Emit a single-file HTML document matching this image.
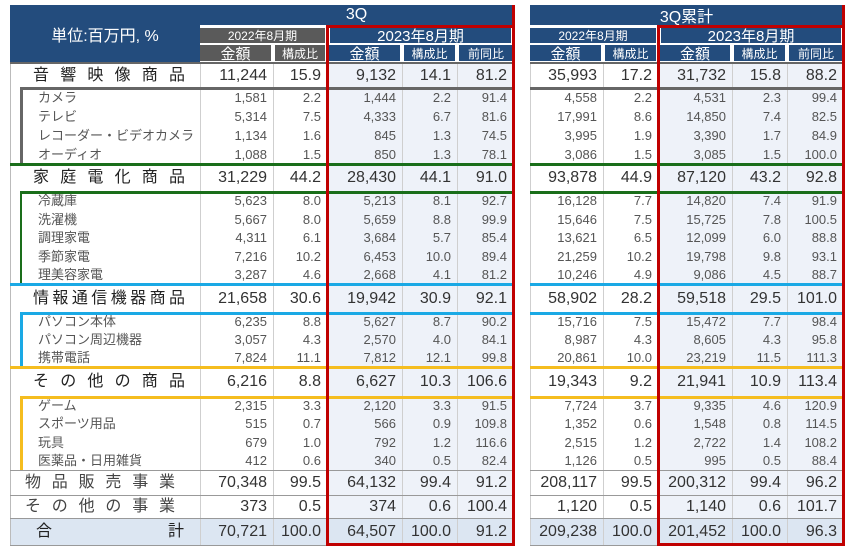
<!DOCTYPE html>
<html><head><meta charset="utf-8"><style>
body{margin:0;width:857px;height:550px;background:#fff;overflow:hidden;position:relative;font-family:"Liberation Sans","Noto Sans CJK JP",sans-serif;}
div{position:absolute;box-sizing:border-box;}
.hd{color:#fff;text-align:center;display:flex;align-items:center;justify-content:center;}
.n{text-align:right;color:#333;}
</style></head><body>
<script>
const R=document.body;
function d(x,y,w,h,st,txt,cls){const e=document.createElement('div');e.style.cssText=`left:${x}px;top:${y}px;width:${w}px;height:${h}px;`+(st||'');if(cls)e.className=cls;if(txt!==undefined)e.textContent=txt;R.appendChild(e);return e;}
const NAV='#234c7d',GR='#5a5a5a';
const colsL=[200,273,327,402,457,513],colsR=[530,603,658,732,787,843];
d(327,62,186,456,'background:#eef2f9');d(658,62,185,456,'background:#eef2f9');
d(10,518,503,27,'background:#dce6f2');d(530,518,313,27,'background:#dce6f2');
d(10,5,190,57,'background:'+NAV+';font-size:16px','単位:百万円, %','hd');
d(200,5,313,20,'background:'+NAV+';font-size:16px','3Q','hd');
d(530,5,313,20,'background:'+NAV+';font-size:16px','3Q累計','hd');
d(200,28,125,15,'background:'+GR+';font-size:12px','2022年8月期','hd');
d(330,28,181,15,'background:'+NAV+';font-size:15px','2023年8月期','hd');
d(530,28,126,15,'background:'+NAV+';font-size:12px','2022年8月期','hd');
d(661,28,180,15,'background:'+NAV+';font-size:15px','2023年8月期','hd');
const hn=['金額','構成比','金額','構成比','前同比'];
for(let i=0;i<5;i++){
 const c=i<2?GR:NAV;
 d(colsL[i]+(i==0?0:2),45,colsL[i+1]-colsL[i]-(i==0?2:4)+(i==4?2:0),16,'background:'+c+';font-size:'+(i%2==0&&i!=4?15:12)+'px',hn[i],'hd');
 d(colsR[i]+(i==0?0:2),45,colsR[i+1]-colsR[i]-(i==0?2:4)+(i==4?2:0),16,'background:'+NAV+';font-size:'+(i%2==0&&i!=4?15:12)+'px',hn[i],'hd');
}
for(const cs of [colsL,colsR])for(let i=0;i<5;i++)d(cs[i],62,1,483,'background:#cfcfcf');
d(10,62,1,483,'background:#bbb');
d(10,62,503,2,'background:#666');d(530,62,313,2,'background:#666');
const rows=[
['音 響 映 像 商 品','M',64,88,['11,244','15.9','9,132','14.1','81.2'],['35,993','17.2','31,732','15.8','88.2']],
['カメラ','S',88,107,['1,581','2.2','1,444','2.2','91.4'],['4,558','2.2','4,531','2.3','99.4']],
['テレビ','S',107,126,['5,314','7.5','4,333','6.7','81.6'],['17,991','8.6','14,850','7.4','82.5']],
['レコーダー・ビデオカメラ','S',126,145,['1,134','1.6','845','1.3','74.5'],['3,995','1.9','3,390','1.7','84.9']],
['オーディオ','S',145,164,['1,088','1.5','850','1.3','78.1'],['3,086','1.5','3,085','1.5','100.0']],
['家 庭 電 化 商 品','M',164,192,['31,229','44.2','28,430','44.1','91.0'],['93,878','44.9','87,120','43.2','92.8']],
['冷蔵庫','S',192,210,['5,623','8.0','5,213','8.1','92.7'],['16,128','7.7','14,820','7.4','91.9']],
['洗濯機','S',210,229,['5,667','8.0','5,659','8.8','99.9'],['15,646','7.5','15,725','7.8','100.5']],
['調理家電','S',229,247,['4,311','6.1','3,684','5.7','85.4'],['13,621','6.5','12,099','6.0','88.8']],
['季節家電','S',247,266,['7,216','10.2','6,453','10.0','89.4'],['21,259','10.2','19,798','9.8','93.1']],
['理美容家電','S',266,284,['3,287','4.6','2,668','4.1','81.2'],['10,246','4.9','9,086','4.5','88.7']],
['情報通信機器商品','M',284,313,['21,658','30.6','19,942','30.9','92.1'],['58,902','28.2','59,518','29.5','101.0']],
['パソコン本体','S',313,331,['6,235','8.8','5,627','8.7','90.2'],['15,716','7.5','15,472','7.7','98.4']],
['パソコン周辺機器','S',331,349,['3,057','4.3','2,570','4.0','84.1'],['8,987','4.3','8,605','4.3','95.8']],
['携帯電話','S',349,367,['7,824','11.1','7,812','12.1','99.8'],['20,861','10.0','23,219','11.5','111.3']],
['そ の 他 の 商 品','M',367,397,['6,216','8.8','6,627','10.3','106.6'],['19,343','9.2','21,941','10.9','113.4']],
['ゲーム','S',397,415,['2,315','3.3','2,120','3.3','91.5'],['7,724','3.7','9,335','4.6','120.9']],
['スポーツ用品','S',415,433,['515','0.7','566','0.9','109.8'],['1,352','0.6','1,548','0.8','114.5']],
['玩具','S',433,452,['679','1.0','792','1.2','116.6'],['2,515','1.2','2,722','1.4','108.2']],
['医薬品・日用雑貨','S',452,470,['412','0.6','340','0.5','82.4'],['1,126','0.5','995','0.5','88.4']],
['物 品 販 売 事 業','B',470,495,['70,348','99.5','64,132','99.4','91.2'],['208,117','99.5','200,312','99.4','96.2']],
['そ の 他 の 事 業','B',495,518,['373','0.5','374','0.6','100.4'],['1,120','0.5','1,140','0.6','101.7']],
['合計','T',518,545,['70,721','100.0','64,507','100.0','91.2'],['209,238','100.0','201,452','100.0','96.3']],
];
for(const r of rows){
 const [lab,t,y0,y1,L,Rv]=r,h=y1-y0;
 const big=t!='S';
 if(t=='S')d(38,y0,170,h,`font-size:13px;line-height:${h}px;color:#555;white-space:nowrap`,lab);
 else if(t=='T'){d(36,y0,20,h,`font-size:16px;line-height:${h}px;color:#222`,'合');d(168,y0,20,h,`font-size:16px;line-height:${h}px;color:#222`,'計');}
 else{const chars=lab.replace(/ /g,'').split('');const x0=t=='B'?25:33,x1=t=='B'?175:185;const step=(x1-x0-16)/(chars.length-1);
  chars.forEach((ch,k)=>d(x0+k*step,y0,18,h,`font-size:16px;line-height:${h}px;color:${t=='B'?'#444':'#222'}`,ch));}
 for(const [cs,v] of [[colsL,L],[colsR,Rv]])for(let i=0;i<5;i++){
  d(cs[i],y0,cs[i+1]-cs[i]-6,h,`font-size:${big?16:13}px;line-height:${h}px;color:${big?'#333':'#555'}`,v[i],'n');
 }
}
function hl(y,x,c,w){d(x,y-1,513-x,w||3,'background:'+c);d(530,y-1,313,w||3,'background:'+c);}
hl(88,20,'#666');d(20,88,3,76,'background:#666');
hl(164,10,'#1a6e1a');hl(192,20,'#1a6e1a');d(20,192,2,92,'background:#1a6e1a');
hl(284,10,'#1aa9e5');hl(313,20,'#1aa9e5');d(20,313,3,54,'background:#1aa9e5');
hl(367,10,'#f5bd1f');hl(397,20,'#f5bd1f');d(20,397,3,73,'background:#f5bd1f');
for(const y of [470,495,518]){d(10,y,503,1,'background:#999');d(530,y,313,1,'background:#999');}
d(10,545,503,1,'background:#999');d(530,545,313,1,'background:#999');
d(326,25,189,521,'border:3px solid #c00000');d(657,25,188,521,'border:3px solid #c00000');
d(512,5,3,20,'background:#c00000');d(842,5,3,20,'background:#c00000');
</script>
</body></html>
